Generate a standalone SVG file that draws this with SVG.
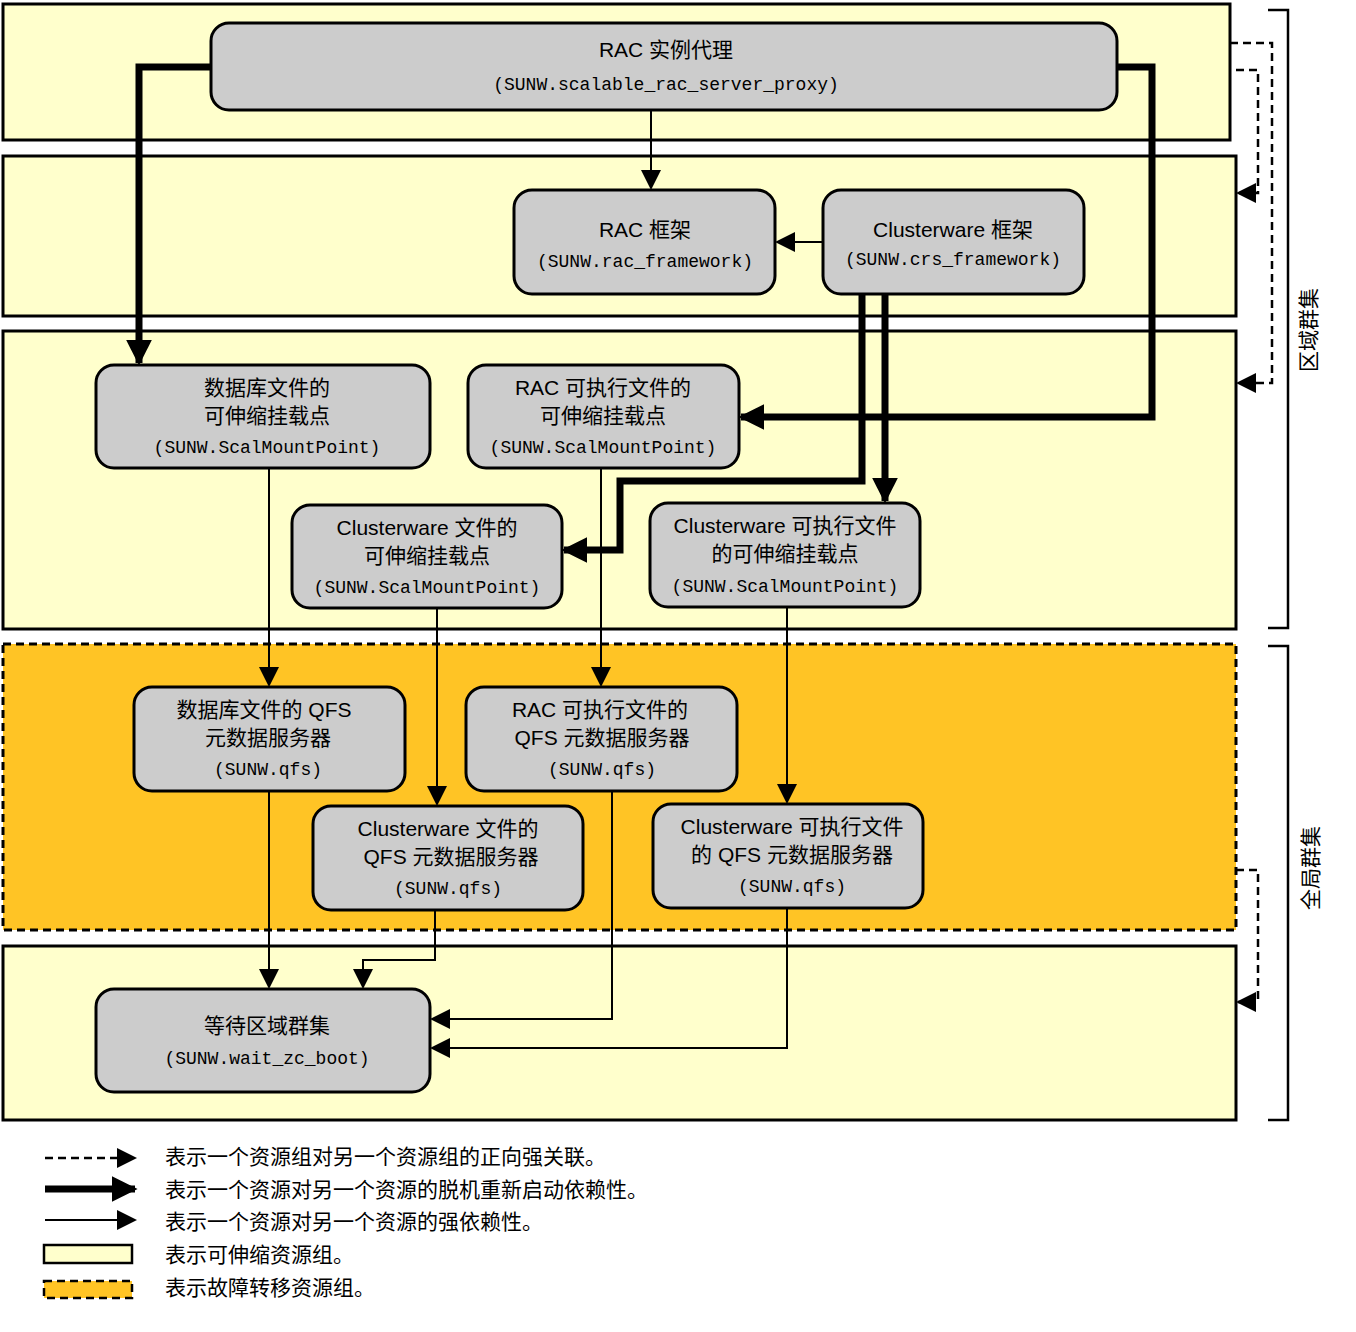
<svg xmlns="http://www.w3.org/2000/svg" width="1356" height="1332" viewBox="0 0 1356 1332">
<defs>
<marker id="ah" markerWidth="8" markerHeight="8" refX="7" refY="4" orient="auto" markerUnits="userSpaceOnUse" viewBox="0 0 8 8"><path d="M0,0 L8,4 L0,8z" fill="#000"/></marker>
<marker id="at" viewBox="0 0 10 10" refX="9" refY="5" markerWidth="26" markerHeight="26" orient="auto" markerUnits="userSpaceOnUse"><path d="M0,0 L10,5 L0,10z" fill="#000"/></marker>
<marker id="an" viewBox="0 0 10 10" refX="9" refY="5" markerWidth="20" markerHeight="20" orient="auto" markerUnits="userSpaceOnUse"><path d="M0,0 L10,5 L0,10z" fill="#000"/></marker>
</defs>
<style>
.sg{fill:#ffffcc;stroke:#000;stroke-width:3}
.fg{fill:#ffc425;stroke:#000;stroke-width:3;stroke-dasharray:8,5}
.n{fill:#cccccc;stroke:#000;stroke-width:3}
.t{font-family:"Liberation Sans","Noto Sans CJK SC",sans-serif;font-size:21px;text-anchor:middle;fill:#000}
.m{font-family:"Liberation Mono","Noto Sans CJK SC",monospace;font-size:18px;text-anchor:middle;fill:#000}
.l{font-family:"Liberation Sans","Noto Sans CJK SC",sans-serif;font-size:21px;fill:#000}
.thin{fill:none;stroke:#000;stroke-width:2;marker-end:url(#an)}
.thick{fill:none;stroke:#000;stroke-width:7;marker-end:url(#at)}
.dash{fill:none;stroke:#000;stroke-width:2.5;stroke-dasharray:8,5;marker-end:url(#an)}
.br{fill:none;stroke:#000;stroke-width:2.5}
</style>
<g id="groups">
<rect class="sg" x="3" y="4" width="1227" height="136"/>
<rect class="sg" x="3" y="156" width="1233" height="160"/>
<rect class="sg" x="3" y="331" width="1233" height="298"/>
<rect class="fg" x="3" y="644" width="1233" height="286"/>
<rect class="sg" x="3" y="946" width="1233" height="174"/>
<path class="br" d="M1268,10 H1288 V628 H1268"/>
<path class="br" d="M1268,646 H1288 V1120 H1268"/>
<text class="l" transform="translate(1316,330) rotate(-90)" text-anchor="middle">区域群集</text>
<text class="l" transform="translate(1318,868) rotate(-90)" text-anchor="middle">全局群集</text>
</g>
<g id="A"><rect class="n" x="211" y="23" width="906" height="87" rx="18"/><text class="t" x="666" y="57">RAC 实例代理</text><text class="m" x="666" y="90">(SUNW.scalable_rac_server_proxy)</text></g>
<g id="B"><rect class="n" x="514" y="190" width="261" height="104" rx="18"/><text class="t" x="645" y="237">RAC 框架</text><text class="m" x="645" y="267">(SUNW.rac_framework)</text></g>
<g id="C"><rect class="n" x="823" y="190" width="261" height="104" rx="18"/><text class="t" x="953" y="237">Clusterware 框架</text><text class="m" x="953" y="265">(SUNW.crs_framework)</text></g>
<g id="D"><rect class="n" x="96" y="365" width="334" height="103" rx="18"/><text class="t" x="267" y="395">数据库文件的</text><text class="t" x="267" y="423">可伸缩挂载点</text><text class="m" x="267" y="453">(SUNW.ScalMountPoint)</text></g>
<g id="E"><rect class="n" x="468" y="365" width="271" height="103" rx="18"/><text class="t" x="603" y="395">RAC 可执行文件的</text><text class="t" x="603" y="423">可伸缩挂载点</text><text class="m" x="603" y="453">(SUNW.ScalMountPoint)</text></g>
<g id="F"><rect class="n" x="292" y="505" width="270" height="103" rx="18"/><text class="t" x="427" y="535">Clusterware 文件的</text><text class="t" x="427" y="563">可伸缩挂载点</text><text class="m" x="427" y="593">(SUNW.ScalMountPoint)</text></g>
<g id="G"><rect class="n" x="650" y="503" width="270" height="104" rx="18"/><text class="t" x="785" y="533">Clusterware 可执行文件</text><text class="t" x="785" y="561">的可伸缩挂载点</text><text class="m" x="785" y="592">(SUNW.ScalMountPoint)</text></g>
<g id="H"><rect class="n" x="134" y="687" width="271" height="104" rx="18"/><text class="t" x="264" y="717">数据库文件的 QFS</text><text class="t" x="268" y="745">元数据服务器</text><text class="m" x="268" y="775">(SUNW.qfs)</text></g>
<g id="I"><rect class="n" x="466" y="687" width="271" height="104" rx="18"/><text class="t" x="600" y="717">RAC 可执行文件的</text><text class="t" x="602" y="745">QFS 元数据服务器</text><text class="m" x="602" y="775">(SUNW.qfs)</text></g>
<g id="J"><rect class="n" x="313" y="806" width="270" height="104" rx="18"/><text class="t" x="448" y="836">Clusterware 文件的</text><text class="t" x="451" y="864">QFS 元数据服务器</text><text class="m" x="448" y="894">(SUNW.qfs)</text></g>
<g id="K"><rect class="n" x="653" y="804" width="270" height="104" rx="18"/><text class="t" x="792" y="834">Clusterware 可执行文件</text><text class="t" x="792" y="862">的 QFS 元数据服务器</text><text class="m" x="792" y="892">(SUNW.qfs)</text></g>
<g id="L"><rect class="n" x="96" y="989" width="334" height="103" rx="18"/><text class="t" x="267" y="1033">等待区域群集</text><text class="m" x="267" y="1064">(SUNW.wait_zc_boot)</text></g>
<g id="connectors">
<path class="thin" d="M651,110 V188"/>
<path class="thin" d="M823,242 H777"/>
<path class="thick" d="M211,67 H139 V363"/>
<path class="thick" d="M1117,67 H1152 V417 H741"/>
<path class="thick" d="M862,294 V481 H620 V550 H564"/>
<path class="thick" d="M885,294 V501"/>
<path class="thin" d="M269,468 V685"/>
<path class="thin" d="M601,468 V685"/>
<path class="thin" d="M437,608 V804"/>
<path class="thin" d="M787,607 V802"/>
<path class="thin" d="M269,791 V987"/>
<path class="thin" d="M435,910 V960 H363 V987"/>
<path class="thin" d="M612,791 V1019 H432"/>
<path class="thin" d="M787,908 V1048 H432"/>
<path class="dash" d="M1230,43 H1272 V383 H1238"/>
<path class="dash" d="M1236,70 H1258 V193 H1238"/>
<path class="dash" d="M1236,870 H1258 V1002 H1238"/>
</g>
<g id="legend">
<path class="dash" d="M45,1158 H135"/>
<path class="thick" d="M45,1189 H135"/>
<path class="thin" d="M45,1220 H135"/>
<rect class="sg" x="44" y="1245" width="88" height="18" style="stroke-width:2.5"/>
<rect class="fg" x="44" y="1281" width="88" height="17" style="stroke-width:2.5"/>
<text class="l" x="165" y="1164">表示一个资源组对另一个资源组的正向强关联。</text>
<text class="l" x="165" y="1197">表示一个资源对另一个资源的脱机重新启动依赖性。</text>
<text class="l" x="165" y="1229">表示一个资源对另一个资源的强依赖性。</text>
<text class="l" x="165" y="1262">表示可伸缩资源组。</text>
<text class="l" x="165" y="1295">表示故障转移资源组。</text>
</g>
</svg>
